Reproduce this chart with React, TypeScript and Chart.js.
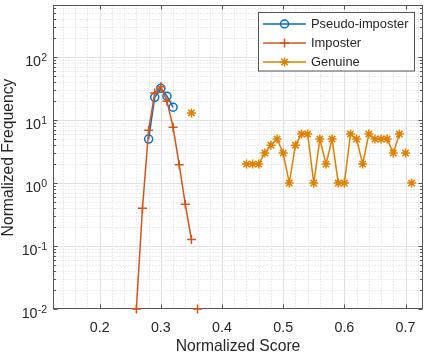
import React, { useEffect, useRef } from 'react';
import { Chart, registerables } from 'chart.js';

Chart.register(...registerables);

// ---- data ----
const pseudoX = [0.28, 0.29, 0.3, 0.31, 0.32];
const pseudoY = [5, 23, 32, 24, 16];

const impX = [0.26, 0.27, 0.28, 0.29, 0.3, 0.31, 0.32, 0.33, 0.34, 0.35, 0.36];
const impY = [0.01, 0.4, 6.9, 27, 34, 20, 7.7, 1.96, 0.46, 0.127, 0.01];
const impBreaks = [10];

const genX = [0.35, 0.44, 0.45, 0.46, 0.47, 0.48, 0.49, 0.5, 0.51, 0.52, 0.53, 0.54, 0.55, 0.56, 0.57,
  0.58, 0.59, 0.6, 0.61, 0.62, 0.63, 0.64, 0.65, 0.66, 0.67, 0.68, 0.69, 0.7, 0.71];
const genY = [13, 2, 2, 2, 3, 4, 5, 3, 1, 4, 6, 6, 1, 5, 2,
  5, 1, 1, 6, 5, 2, 6, 5, 5, 5, 3, 6, 3, 1];
const genBreaks = [1, 27, 28];

const seriesNames = ['Pseudo-imposter', 'Imposter', 'Genuine'];
const xTicks = [0.2, 0.3, 0.4, 0.5, 0.6, 0.7];
const xTickLabels = ['0.2', '0.3', '0.4', '0.5', '0.6', '0.7'];
const yTicks = [0.01, 0.1, 1, 10, 100];
const yTickExps = ['-2', '-1', '0', '1', '2'];
const xTitle = 'Normalized Score';
const yTitle = 'Normalized Frequency';

// ---- styles ----
const BLUE = '#0072BD';
const RED = '#D95319';
const ORANGE = '#DF8000';
const TXT = '#262626';
const FONT = '"Liberation Sans", Arial, Helvetica, sans-serif';
const X_MIN = 0.12371;
const X_MAX = 0.72855;
const Y_MIN = 0.01;
const Y_MAX = Math.pow(10, 2.8125);

function drawMarker(ctx: CanvasRenderingContext2D, style: string, x: number, y: number, r: number) {
  ctx.beginPath();
  if (style === 'circle') {
    ctx.arc(x, y, r, 0, Math.PI * 2);
  } else if (style === 'cross') {
    ctx.moveTo(x - r, y); ctx.lineTo(x + r, y);
    ctx.moveTo(x, y - r); ctx.lineTo(x, y + r);
  } else {
    const d = r * Math.SQRT1_2;
    ctx.moveTo(x - r, y); ctx.lineTo(x + r, y);
    ctx.moveTo(x, y - r); ctx.lineTo(x, y + r);
    ctx.moveTo(x - d, y - d); ctx.lineTo(x + d, y + d);
    ctx.moveTo(x - d, y + d); ctx.lineTo(x + d, y - d);
  }
  ctx.stroke();
}

const axesPlugin = {
  id: 'matlabAxes',
  beforeDatasetsDraw(chart: any) {
    const { ctx, chartArea: a, scales } = chart;
    const xs = scales.x;
    const ys = scales.y;
    const L = Math.round(a.left) + 0.5;
    const R = Math.round(a.right) - 0.5;
    const T = Math.round(a.top) - 0.5;
    const B = Math.round(a.bottom) - 0.5;
    ctx.save();
    ctx.lineWidth = 1;
    // minor grid
    ctx.strokeStyle = '#d9d9d9';
    ctx.setLineDash([1, 2]);
    ctx.beginPath();
    for (let i = 6; i <= 36; i++) {
      if (i % 5 === 0) continue;
      const px = Math.round(xs.getPixelForValue(i * 0.02)) + 0.5;
      if (px <= L || px >= R) continue;
      ctx.moveTo(px, T); ctx.lineTo(px, B);
    }
    const minorY: number[] = [];
    for (let d = -2; d <= 2; d++) {
      for (let k = 2; k <= 9; k++) minorY.push(k * Math.pow(10, d));
    }
    minorY.forEach((v) => {
      const py = Math.round(ys.getPixelForValue(v)) + 0.5;
      if (py <= T || py >= B) return;
      ctx.moveTo(L, py); ctx.lineTo(R, py);
    });
    ctx.stroke();
    // major grid
    ctx.setLineDash([]);
    ctx.strokeStyle = '#e0e0e0';
    ctx.beginPath();
    xTicks.forEach((v) => {
      const px = Math.round(xs.getPixelForValue(v)) + 0.5;
      ctx.moveTo(px, T); ctx.lineTo(px, B);
    });
    yTicks.forEach((v) => {
      const py = Math.round(ys.getPixelForValue(v)) + 0.5;
      if (py >= B) return;
      ctx.moveTo(L, py); ctx.lineTo(R, py);
    });
    ctx.stroke();
    // box
    ctx.strokeStyle = '#555555';
    ctx.strokeRect(L, T, R - L, B - T);
    // ticks
    ctx.beginPath();
    xTicks.forEach((v) => {
      const px = Math.round(xs.getPixelForValue(v)) + 0.5;
      ctx.moveTo(px, B); ctx.lineTo(px, B - 4);
      ctx.moveTo(px, T); ctx.lineTo(px, T + 4);
    });
    yTicks.forEach((v) => {
      const py = Math.round(ys.getPixelForValue(v)) + 0.5;
      ctx.moveTo(L, py); ctx.lineTo(L + 4, py);
      ctx.moveTo(R, py); ctx.lineTo(R - 4, py);
    });
    minorY.forEach((v) => {
      const py = Math.round(ys.getPixelForValue(v)) + 0.5;
      if (py <= T || py >= B) return;
      ctx.moveTo(L, py); ctx.lineTo(L + 2.5, py);
      ctx.moveTo(R, py); ctx.lineTo(R - 2.5, py);
    });
    ctx.stroke();
    // tick labels
    ctx.fillStyle = TXT;
    ctx.textBaseline = 'alphabetic';
    ctx.font = `14.3px ${FONT}`;
    ctx.textAlign = 'center';
    xTicks.forEach((v, i) => {
      ctx.fillText(xTickLabels[i], xs.getPixelForValue(v), 331.5);
    });
    ctx.textAlign = 'left';
    yTicks.forEach((v, i) => {
      const py = ys.getPixelForValue(v);
      const right = a.left - 5.8;
      ctx.font = `10.5px ${FONT}`;
      const we = ctx.measureText(yTickExps[i]).width;
      ctx.fillText(yTickExps[i], right - we, py + 3.5);
      ctx.font = `14.3px ${FONT}`;
      const wb = ctx.measureText('10').width;
      ctx.fillText('10', right - we - wb - 0.3, py + 8.5);
    });
    // axis titles
    ctx.font = `15.7px ${FONT}`;
    ctx.textAlign = 'center';
    ctx.fillText(xTitle, (a.left + a.right) / 2, 351);
    ctx.save();
    ctx.translate(13, (a.top + a.bottom) / 2);
    ctx.rotate(-Math.PI / 2);
    ctx.fillText(yTitle, 0, 0);
    ctx.restore();
    ctx.restore();
  },
  afterDatasetsDraw(chart: any) {
    const { ctx } = chart;
    ctx.save();
    ctx.fillStyle = '#ffffff';
    ctx.fillRect(258.5, 12.5, 156, 58.5);
    ctx.lineWidth = 1;
    ctx.strokeStyle = '#555555';
    ctx.strokeRect(258.5, 12.5, 156, 58.5);
    const rows = [24, 43, 62];
    const cols = [BLUE, RED, ORANGE];
    const styles = ['circle', 'cross', 'star'];
    const radii = [4, 4.5, 4.5];
    rows.forEach((ry, i) => {
      ctx.strokeStyle = cols[i];
      ctx.lineWidth = 1.5;
      ctx.beginPath();
      ctx.moveTo(263, ry); ctx.lineTo(306, ry);
      ctx.stroke();
      drawMarker(ctx, styles[i], 284.5, ry, radii[i]);
      ctx.fillStyle = TXT;
      ctx.font = `12.9px ${FONT}`;
      ctx.textAlign = 'left';
      ctx.textBaseline = 'middle';
      ctx.fillText(seriesNames[i], 311, ry + 0.5);
    });
    ctx.restore();
  },
};

export default function App() {
  const ref = useRef<HTMLCanvasElement | null>(null);
  useEffect(() => {
    if (!ref.current) return;
    const mk = (xsArr: number[], ysArr: number[]) => xsArr.map((x, i) => ({ x, y: ysArr[i] }));
    const chart = new Chart(ref.current, {
      type: 'line',
      data: {
        datasets: [
          {
            label: seriesNames[0],
            data: mk(pseudoX, pseudoY),
            borderColor: BLUE,
            borderWidth: 1.5,
            pointStyle: 'circle',
            pointRadius: 4,
            pointBorderWidth: 1.5,
            pointBorderColor: BLUE,
            pointBackgroundColor: 'rgba(0,0,0,0)',
            fill: false,
            tension: 0,
            order: 3,
            clip: false,
          },
          {
            label: seriesNames[1],
            data: mk(impX, impY),
            borderColor: RED,
            borderWidth: 1.5,
            pointStyle: 'cross',
            pointRadius: 4.5,
            pointBorderWidth: 1.5,
            pointBorderColor: RED,
            pointBackgroundColor: RED,
            fill: false,
            tension: 0,
            order: 2,
            clip: false,
            segment: {
              borderColor: (c: any) => (impBreaks.includes(c.p1DataIndex) ? 'rgba(0,0,0,0)' : RED),
            },
          },
          {
            label: seriesNames[2],
            data: mk(genX, genY),
            borderColor: ORANGE,
            borderWidth: 1.5,
            pointStyle: 'star',
            pointRadius: 4.5,
            pointBorderWidth: 1.5,
            pointBorderColor: ORANGE,
            pointBackgroundColor: ORANGE,
            fill: false,
            tension: 0,
            order: 1,
            clip: false,
            segment: {
              borderColor: (c: any) => (genBreaks.includes(c.p1DataIndex) ? 'rgba(0,0,0,0)' : ORANGE),
            },
          },
        ],
      } as any,
      options: {
        animation: false,
        responsive: false,
        devicePixelRatio: 1,
        events: [],
        layout: { padding: { left: 53, right: 2, top: 1, bottom: 45 } },
        plugins: { legend: { display: false }, tooltip: { enabled: false } },
        scales: {
          x: { type: 'linear', min: X_MIN, max: X_MAX, display: false },
          y: { type: 'logarithmic', min: Y_MIN, max: Y_MAX, display: false },
        },
      } as any,
      plugins: [axesPlugin],
    });
    return () => chart.destroy();
  }, []);
  return (
    <div style={{ position: 'fixed', left: 0, top: 0, width: 429, height: 354, background: '#fff' }}>
      <canvas ref={ref} width={429} height={354} style={{ width: 429, height: 354, display: 'block' }} />
    </div>
  );
}
